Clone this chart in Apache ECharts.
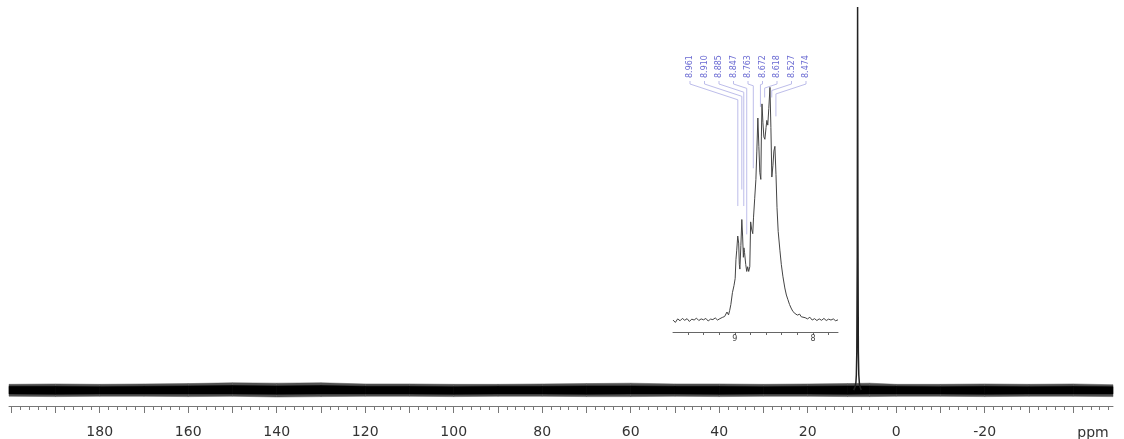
<!DOCTYPE html>
<html><head><meta charset="utf-8">
<script src="https://cdn.jsdelivr.net/npm/echarts@6/dist/echarts.min.js"></script>
<style>html,body{margin:0;padding:0;background:#fff}#c{width:1124px;height:439px}</style>
</head><body><div id="c"></div>
<script>
// ---- main axis labels (ppm) ----
const mainLabelPpm = [180, 160, 140, 120, 100, 80, 60, 40, 20, 0, -20];
const insetLabelPpm = [9, 8];
// ---- peak pick labels ----
const peakLabels = [8.961, 8.910, 8.885, 8.847, 8.763, 8.672, 8.618, 8.527, 8.474];

// ---- main spectrum: sharp peak ----
const mainPeakPpm = [9.6, 9.3, 9.1, 9.0, 8.9, 8.8, 8.72, 8.64, 8.55, 8.45, 8.3, 8.1, 7.9];
const mainPeakVal = [0, 0.8, 2, 4, 10, 35, 100, 40, 10, 4, 1.5, 0.6, 0];

// ---- main spectrum: baseline noise envelope ----
const envPpm  = [200.5, 190, 180, 170, 160, 150, 140, 130, 120, 110, 100, 90, 80, 70, 60, 50, 40, 30, 20, 11, 6, 0, -10, -20, -30, -40, -49];
const outerUp = [1.5, 1.6, 1.5, 1.6, 1.7, 1.9, 1.8, 1.9, 1.6, 1.6, 1.5, 1.5, 1.6, 1.7, 1.8, 1.6, 1.6, 1.5, 1.6, 1.7, 1.8, 1.5, 1.5, 1.6, 1.5, 1.6, 1.4];
const outerLo = [-1.6, -1.7, -1.6, -1.6, -1.7, -1.6, -1.8, -1.7, -1.6, -1.6, -1.7, -1.6, -1.6, -1.7, -1.7, -1.6, -1.7, -1.6, -1.6, -1.7, -1.7, -1.6, -1.6, -1.7, -1.6, -1.6, -1.7];
const innerUp = [1.0, 1.0, 0.9, 1.0, 1.1, 1.2, 1.1, 1.2, 1.0, 1.0, 0.9, 1.0, 1.0, 1.1, 1.1, 1.0, 1.0, 0.9, 1.0, 1.1, 1.1, 1.0, 0.9, 1.0, 0.9, 1.0, 0.9];
const innerLo = [-1.0, -1.1, -1.0, -1.0, -1.0, -1.0, -1.1, -1.0, -1.0, -1.0, -1.1, -1.0, -1.0, -1.1, -1.0, -1.0, -1.1, -1.0, -1.0, -1.1, -1.0, -1.0, -1.0, -1.1, -1.0, -1.0, -1.0];

// ---- inset spectrum ----
const insetPpm = [9.79, 9.76, 9.73, 9.70, 9.67, 9.64, 9.61, 9.58, 9.55, 9.52, 9.49, 9.46, 9.43, 9.40, 9.37, 9.34, 9.31, 9.28, 9.25, 9.22, 9.19, 9.16, 9.13, 9.10, 9.08, 9.065, 9.05, 9.03, 9.01, 8.995, 8.985, 8.975, 8.962, 8.950, 8.942, 8.935, 8.922, 8.910, 8.900, 8.890, 8.883, 8.875, 8.860, 8.847, 8.835, 8.822, 8.808, 8.797, 8.785, 8.770, 8.760, 8.745, 8.730, 8.718, 8.705, 8.692, 8.680, 8.667, 8.660, 8.652, 8.640, 8.628, 8.615, 8.600, 8.590, 8.578, 8.565, 8.550, 8.538, 8.526, 8.512, 8.500, 8.487, 8.473, 8.460, 8.445, 8.423, 8.405, 8.385, 8.36, 8.34, 8.32, 8.30, 8.28, 8.256, 8.23, 8.20, 8.17, 8.15, 8.13, 8.10, 8.07, 8.04, 8.01, 7.98, 7.95, 7.92, 7.89, 7.86, 7.83, 7.80, 7.77, 7.74, 7.71, 7.68];
const insetVal = [0.4, -0.6, 0.9, 0.1, 1.1, 0.3, 1.0, -0.2, 0.8, 0.4, 1.2, 0.2, 0.9, 0.5, 1.1, 0.0, 0.8, 0.6, 1.3, 0.4, 1.0, 1.5, 1.9, 3.8, 2.6, 4.5, 7, 12, 15, 18, 26, 30, 36, 33, 24, 22, 32, 43, 36, 27, 31, 29, 24, 21, 23, 21, 23, 42, 39, 37, 44, 52, 60, 72, 86, 74, 63, 60, 78, 92, 84, 78, 77, 82, 85, 83, 90, 99, 82, 61, 66, 72, 74, 62, 48, 38, 30, 24, 19, 14, 11, 9, 7, 5.5, 4, 3.2, 2.5, 2.9, 1.8, 1.7, 1.4, 0.9, 1.6, 0.4, 1.0, 0.2, 0.9, 0.3, 1.1, 0.2, 0.8, 0.4, 0.9, 0.1, 0.5];

const FONT = 'DejaVu Sans';
const chart = echarts.init(document.getElementById('c'), null, {renderer: 'canvas'});

const range = (a, b, s, d) => { const r = []; for (let v = a; v <= b + 1e-9; v += s) r.push(+v.toFixed(d)); return r; };
const minorTicks = range(-48, 200, 2, 0);
const tenTicks = range(-40, 200, 10, 0);
const insetTicks = range(7.8, 9.6, 0.2, 1);

const zip = (xs, ys) => xs.map((x, i) => [x, ys[i]]);
// band segments: [ppm_i, up_i, lo_i, ppm_i+1, up_i+1, lo_i+1]
const bandSegments = (up, lo) => envPpm.slice(0, -1).map((p, i) =>
  [p, up[i], lo[i], envPpm[i + 1], up[i + 1], lo[i + 1]]);

const bandRender = color => (params, api) => {
  const a = api.coord([api.value(0), api.value(1)]);
  const b = api.coord([api.value(3), api.value(4)]);
  const c = api.coord([api.value(3), api.value(5)]);
  const d = api.coord([api.value(0), api.value(2)]);
  return {type: 'polygon', shape: {points: [a, b, c, d]}, style: {fill: color, stroke: color, lineWidth: 0.5}};
};

const MAIN_MIN = -49, MAIN_MAX = 200.5;

chart.setOption({
  animation: false,
  backgroundColor: '#fff',
  grid: [
    {left: 9, right: 11, top: 5, bottom: 32},
    {left: 673, right: 286, top: 85, bottom: 107}
  ],
  xAxis: [
    {gridIndex: 0, type: 'value', position: 'bottom', inverse: true, min: MAIN_MIN, max: MAIN_MAX,
     axisLine: {show: true, onZero: false, lineStyle: {color: '#777', width: 1}},
     axisTick: {show: true, customValues: minorTicks, length: 4, lineStyle: {color: '#777'}},
     axisLabel: {show: false}, splitLine: {show: false}},
    {gridIndex: 0, type: 'value', position: 'bottom', inverse: true, min: MAIN_MIN, max: MAIN_MAX,
     axisLine: {show: false, onZero: false},
     axisTick: {show: true, customValues: tenTicks, length: 7, lineStyle: {color: '#777'}},
     axisLabel: {show: true, customValues: mainLabelPpm, fontFamily: FONT, fontSize: 14, color: '#333', margin: 19},
     splitLine: {show: false}},
    {gridIndex: 1, type: 'value', position: 'bottom', inverse: true, min: 7.68, max: 9.79,
     axisLine: {show: true, onZero: false, lineStyle: {color: '#666', width: 1}},
     axisTick: {show: true, customValues: insetTicks, length: 3, lineStyle: {color: '#666'}},
     axisLabel: {show: true, customValues: insetLabelPpm, fontFamily: FONT, fontSize: 8, color: '#444', margin: 3,
                 formatter: v => String(Math.round(v))},
     splitLine: {show: false}}
  ],
  yAxis: [
    {gridIndex: 0, type: 'value', min: -4.15, max: 100.5, show: false, splitLine: {show: false}},
    {gridIndex: 1, type: 'value', min: -4.66, max: 100, show: false, splitLine: {show: false}}
  ],
  series: [
    {type: 'custom', xAxisIndex: 0, yAxisIndex: 0, silent: true, z: 2,
     renderItem: bandRender('#505050'), encode: {x: [0, 3], y: [1, 2, 4, 5]},
     data: bandSegments(outerUp, outerLo)},
    {type: 'custom', xAxisIndex: 0, yAxisIndex: 0, silent: true, z: 3,
     renderItem: bandRender('#000'), encode: {x: [0, 3], y: [1, 2, 4, 5]},
     data: bandSegments(innerUp, innerLo)},
    {type: 'line', xAxisIndex: 0, yAxisIndex: 0, showSymbol: false, silent: true, z: 5,
     lineStyle: {color: '#222', width: 1.5}, data: zip(mainPeakPpm, mainPeakVal)},
    {type: 'line', xAxisIndex: 2, yAxisIndex: 1, showSymbol: false, silent: true, z: 5,
     lineStyle: {color: '#444', width: 1}, data: zip(insetPpm, insetVal)}
  ]
});

// ---- peak pick labels with leader lines ----
const graphics = [];
const labelX0 = 690, labelStep = 14.5;
const textBottom = 78;
peakLabels.forEach((p, i) => {
  const lx = labelX0 + i * labelStep;
  let vmax = -Infinity;
  insetPpm.forEach((q, k) => { if (Math.abs(q - p) <= 0.02 && insetVal[k] > vmax) vmax = insetVal[k]; });
  const [px, py] = chart.convertToPixel({gridIndex: 1}, [p, vmax]);
  const y1 = textBottom + 3, y2 = textBottom + 6;
  const diagEnd = y2 + Math.abs(px - lx) * 0.33;
  const ey = Math.max(py - 30, diagEnd);
  graphics.push({
    type: 'polyline', silent: true, z: 10,
    shape: {points: [[lx, y1], [lx, y2], [px, diagEnd], [px, ey]]},
    style: {stroke: '#bdbdea', lineWidth: 1, fill: null}
  });
  graphics.push({
    type: 'text', silent: true, z: 11, x: lx, y: textBottom, rotation: Math.PI / 2,
    style: {text: p.toFixed(3), fontFamily: FONT, fontSize: 8, fill: '#6a6ad2', textAlign: 'left', textVerticalAlign: 'middle'}
  });
});
graphics.push({
  type: 'text', silent: true, x: 1093, y: 433,
  style: {text: 'ppm', fontFamily: FONT, fontSize: 14, fill: '#333', textAlign: 'center', textVerticalAlign: 'middle'}
});
chart.setOption({graphic: graphics});
</script>
</body></html>
